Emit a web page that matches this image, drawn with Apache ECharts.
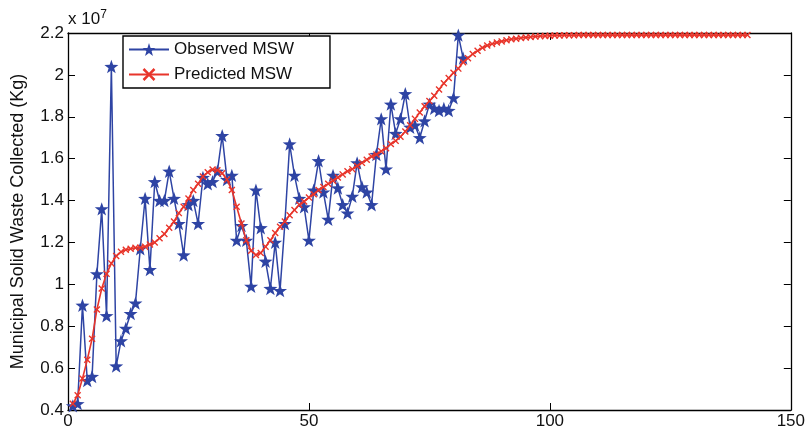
<!DOCTYPE html>
<html>
<head>
<meta charset="utf-8">
<script src="https://cdn.jsdelivr.net/npm/echarts@6/dist/echarts.min.js"></script>
<style>html,body{margin:0;padding:0;background:#fff}#c{width:808px;height:437px}</style>
</head>
<body>
<div id="c"></div>
<script>
// Values in units of 1e7 kg
const observedX = [1,2,3,4,5,6,7,8,9,10,11,12,13,14,15,16,17,18,19,20,21,22,23,24,25,26,27,28,29,30,31,32,33,34,35,36,37,38,39,40,41,42,43,44,45,46,47,48,49,50,51,52,53,54,55,56,57,58,59,60,61,62,63,64,65,66,67,68,69,70,71,72,73,74,75,76,77,78,79,80,81,82];
const observedMSW = [0.42,0.43,0.90,0.54,0.56,1.05,1.36,0.85,2.04,0.61,0.73,0.79,0.86,0.91,1.17,1.41,1.07,1.49,1.40,1.40,1.54,1.41,1.29,1.14,1.38,1.40,1.29,1.51,1.48,1.49,1.54,1.71,1.50,1.52,1.21,1.28,1.21,0.99,1.45,1.27,1.11,0.98,1.20,0.97,1.29,1.67,1.52,1.41,1.37,1.21,1.45,1.59,1.44,1.31,1.52,1.46,1.38,1.34,1.42,1.58,1.465,1.44,1.38,1.62,1.79,1.55,1.86,1.72,1.79,1.91,1.75,1.76,1.70,1.78,1.86,1.84,1.83,1.84,1.83,1.89,2.19,2.08];
const predictedX = [1,2,3,4,5,6,7,8,9,10,11,12,13,14,15,16,17,18,19,20,21,22,23,24,25,26,27,28,29,30,31,32,33,34,35,36,37,38,39,40,41,42,43,44,45,46,47,48,49,50,51,52,53,54,55,56,57,58,59,60,61,62,63,64,65,66,67,68,69,70,71,72,73,74,75,76,77,78,79,80,81,82,83,84,85,86,87,88,89,90,91,92,93,94,95,96,97,98,99,100,101,102,103,104,105,106,107,108,109,110,111,112,113,114,115,116,117,118,119,120,121,122,123,124,125,126,127,128,129,130,131,132,133,134,135,136,137,138,139,140,141];
const predictedMSW = [0.43,0.47,0.55,0.64,0.74,0.88,0.98,1.05,1.10,1.135,1.155,1.165,1.17,1.175,1.175,1.18,1.19,1.20,1.22,1.24,1.27,1.30,1.34,1.37,1.41,1.45,1.48,1.515,1.535,1.548,1.545,1.53,1.50,1.45,1.37,1.29,1.21,1.16,1.14,1.15,1.18,1.21,1.245,1.275,1.30,1.33,1.355,1.38,1.395,1.415,1.43,1.45,1.465,1.48,1.495,1.51,1.525,1.54,1.55,1.565,1.58,1.595,1.61,1.62,1.635,1.65,1.67,1.685,1.705,1.73,1.76,1.79,1.82,1.85,1.875,1.90,1.93,1.96,1.985,2.01,2.03,2.06,2.08,2.10,2.115,2.13,2.14,2.148,2.155,2.16,2.165,2.17,2.173,2.176,2.179,2.181,2.183,2.185,2.186,2.187,2.188,2.188,2.189,2.189,2.189,2.19,2.19,2.19,2.19,2.19,2.19,2.19,2.19,2.19,2.19,2.19,2.19,2.19,2.19,2.19,2.19,2.19,2.19,2.19,2.19,2.19,2.19,2.19,2.19,2.19,2.19,2.19,2.19,2.19,2.19,2.19,2.19,2.19,2.19,2.19,2.19];
const seriesNames = ['Observed MSW', 'Predicted MSW'];
const yAxisTitle = 'Municipal Solid Waste Collected (Kg)';

const blue = '#2e44a4';
const red = '#e8352b';
const starPath = 'path://M0,-10L2.35,-3.24L9.51,-3.09L3.8,1.24L5.88,8.09L0,4L-5.88,8.09L-3.8,1.24L-9.51,-3.09L-2.35,-3.24Z';
const crossPath = 'path://M-5,-3.6L-3.6,-5L0,-1.4L3.6,-5L5,-3.6L1.4,0L5,3.6L3.6,5L0,1.4L-3.6,5L-5,3.6L-1.4,0Z';
const font = 'Liberation Sans, Arial, Helvetica, sans-serif';

const chart = echarts.init(document.getElementById('c'), null, {renderer: 'canvas'});
const zip = (xs, ys) => xs.map((x, i) => [x, ys[i]]);
chart.setOption({
  animation: false,
  backgroundColor: '#fff',
  grid: {left: 68, right: 16, top: 33, bottom: 27, show: false},
  legend: {
    left: 123, top: 36, orient: 'vertical',
    backgroundColor: '#fff', borderColor: '#000', borderWidth: 1.4, borderRadius: 0,
    padding: [5, 36, 5, 5], itemWidth: 40, itemHeight: 16, itemGap: 8,
    textStyle: {fontFamily: font, fontSize: 17, color: '#111'},
    data: seriesNames
  },
  xAxis: [{
    type: 'value', min: 0, max: 150, interval: 50, position: 'bottom',
    axisLine: {show: true, onZero: false, lineStyle: {color: '#000', width: 1.3}},
    axisTick: {show: true, inside: true, length: 7, lineStyle: {color: '#000'}},
    axisLabel: {fontFamily: font, fontSize: 17, color: '#111', margin: 3},
    splitLine: {show: false}
  }, {
    type: 'value', min: 0, max: 150, interval: 50, position: 'top',
    axisLine: {show: true, onZero: false, lineStyle: {color: '#000', width: 1.3}},
    axisTick: {show: true, inside: true, length: 7, lineStyle: {color: '#000'}},
    axisLabel: {show: false}, splitLine: {show: false}
  }],
  yAxis: [{
    type: 'value', min: 0.4, max: 2.2, interval: 0.2, position: 'left',
    name: yAxisTitle, nameLocation: 'middle', nameGap: 41, nameRotate: 90,
    nameTextStyle: {fontFamily: font, fontSize: 18, color: '#111'},
    axisLine: {show: true, onZero: false, lineStyle: {color: '#000', width: 1.3}},
    axisTick: {show: true, inside: true, length: 7, lineStyle: {color: '#000'}},
    axisLabel: {fontFamily: font, fontSize: 17, color: '#111', margin: 4,
      formatter: v => String(+v.toFixed(1))},
    splitLine: {show: false}
  }, {
    type: 'value', min: 0.4, max: 2.2, interval: 0.2, position: 'right',
    axisLine: {show: true, onZero: false, lineStyle: {color: '#000', width: 1.3}},
    axisTick: {show: true, inside: true, length: 7, lineStyle: {color: '#000'}},
    axisLabel: {show: false}, splitLine: {show: false}
  }],
  graphic: [{
    type: 'text', left: 68, top: 9,
    style: {
      text: 'x 10{s|7}', fontFamily: font, fontSize: 17, fill: '#111',
      rich: {s: {fontSize: 12, verticalAlign: 'top', padding: [0, 0, 9, 0], fontFamily: font, fill: '#111'}}
    }
  }],
  series: [{
    name: seriesNames[1], type: 'line', data: zip(predictedX, predictedMSW),
    symbol: crossPath, symbolSize: 7, symbolKeepAspect: true, showAllSymbol: true,
    lineStyle: {color: red, width: 1.6}, itemStyle: {color: red}, z: 3
  }, {
    name: seriesNames[0], type: 'line', data: zip(observedX, observedMSW),
    symbol: starPath, symbolSize: 14, symbolKeepAspect: true, showAllSymbol: true,
    lineStyle: {color: blue, width: 1.5}, itemStyle: {color: blue}, z: 2
  }]
});
</script>
</body>
</html>
